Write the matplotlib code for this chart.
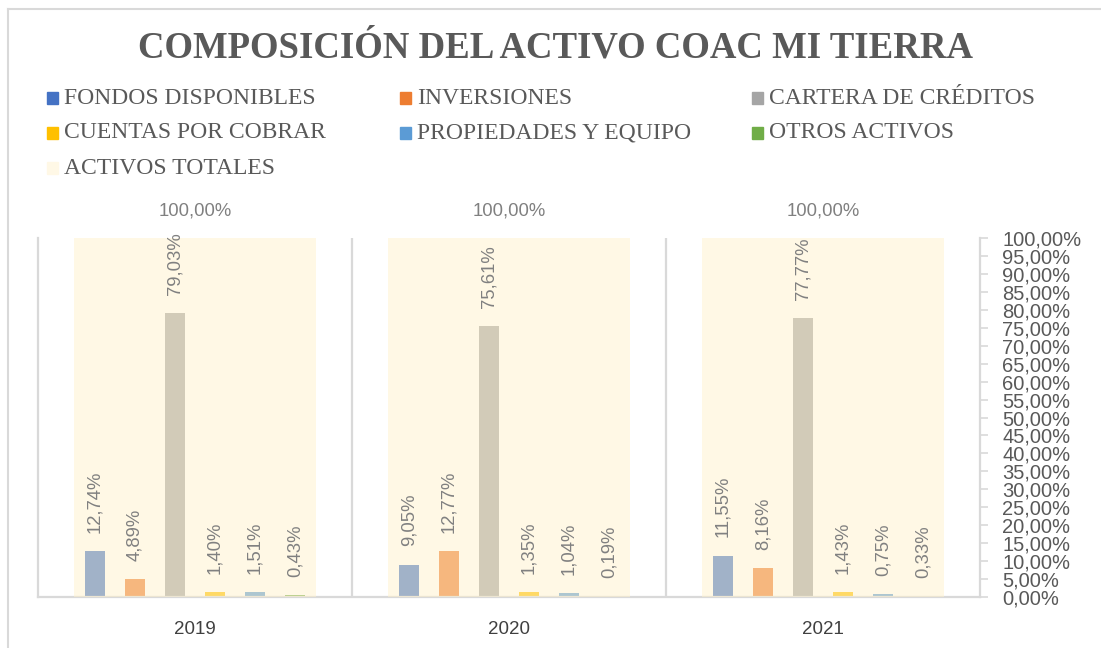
import matplotlib.pyplot as plt
from matplotlib.lines import Line2D
from matplotlib.patches import Rectangle
import numpy as np

years = ['2019', '2020', '2021']
series_names = ['FONDOS DISPONIBLES', 'INVERSIONES', 'CARTERA DE CRÉDITOS',
                'CUENTAS POR COBRAR', 'PROPIEDADES Y EQUIPO', 'OTROS ACTIVOS']
fondos = [12.74, 9.05, 11.55]
inversiones = [4.89, 12.77, 8.16]
cartera = [79.03, 75.61, 77.77]
cuentas = [1.40, 1.35, 1.43]
propiedades = [1.51, 1.04, 0.75]
otros = [0.43, 0.19, 0.33]
totales = [100.0, 100.0, 100.0]
total_name = 'ACTIVOS TOTALES'
yticks = np.arange(0, 101, 5)

colors = ['#4472C4', '#ED7D31', '#A5A5A5', '#FFC000', '#5B9BD5', '#70AD47']
total_color = '#FFF2CC'
grid_color = '#D9D9D9'
label_color = '#808080'
sans = 'Liberation Sans'
serif = 'Liberation Serif'


def pct(v):
    return f'{v:.2f}'.replace('.', ',') + '%'


fig = plt.figure(figsize=(11.01, 6.48), dpi=100)
ax = fig.add_axes([38 / 1101, 51 / 648, 942 / 1101, 359 / 648])

x = np.arange(len(years))
series = [fondos, inversiones, cartera, cuentas, propiedades, otros]
step, width = 0.1274, 0.0637
for i, (vals, c) in enumerate(zip(series, colors)):
    pos = x + (i - 2.5) * step
    ax.bar(pos, vals, width=width, color=c, zorder=2)
    for px, v in zip(pos, vals):
        ax.annotate(pct(v), (px, v), xytext=(0, 13), textcoords='offset points',
                    rotation=90, ha='center', va='bottom', fontsize=13.3,
                    family=sans, color=label_color, zorder=5)

# totals sit on top, half transparent, which washes out the colours below
ax.bar(x, totales, width=0.771, color=total_color, alpha=0.5, zorder=3)
for px, v in zip(x, totales):
    ax.annotate(pct(v), (px, v), xytext=(0, 13), textcoords='offset points',
                ha='center', va='bottom', fontsize=13.3, family=sans,
                color=label_color, annotation_clip=False)

ax.set_xlim(-0.5, len(years) - 0.5)
ax.set_ylim(0, 100)
for sep in x[:-1] + 0.5:
    ax.axvline(sep, color=grid_color, lw=1.6, zorder=1)

ax.set_xticks(x)
ax.set_xticklabels(years, fontsize=13.5, family=sans, color='#404040')
ax.tick_params(axis='x', length=0, pad=17)

ax.yaxis.tick_right()
ax.set_yticks(yticks)
ax.set_yticklabels([pct(t) for t in yticks], fontsize=14.5, family=sans,
                   color='#595959')
ax.tick_params(axis='y', direction='out', length=6, width=1.2,
               color=grid_color, pad=10)

ax.spines['top'].set_visible(False)
for side in ['left', 'right', 'bottom']:
    ax.spines[side].set_color(grid_color)
    ax.spines[side].set_linewidth(1.6)

fig.text(555 / 1101, 1 - 48 / 648, 'COMPOSICIÓN DEL ACTIVO COAC MI TIERRA',
         ha='center', va='center', fontsize=26.5, fontweight='bold',
         family=serif, color='#595959')

# legend, laid out row by row like the original
names = series_names + [total_name]
leg_colors = colors + ['#FFF8E6']
col_x = [47, 400, 752]
row_y = [98, 133, 168]
for k, (name, c) in enumerate(zip(names, leg_colors)):
    cx = col_x[k % 3]
    cy = row_y[k // 3]
    fig.patches.append(Rectangle((cx / 1101, 1 - (cy + 6) / 648), 11 / 1101, 12 / 648,
                                 transform=fig.transFigure, color=c))
    fig.text((cx + 17) / 1101, 1 - cy / 648, name, ha='left', va='center',
             fontsize=17, family=serif, color='#595959')

# outer frame (only top and left edges show)
fig.add_artist(Line2D([8 / 1101, 1], [1 - 9 / 648, 1 - 9 / 648],
                      transform=fig.transFigure, color=grid_color, lw=1.5))
fig.add_artist(Line2D([8 / 1101, 8 / 1101], [0, 1 - 9 / 648],
                      transform=fig.transFigure, color=grid_color, lw=1.5))

fig.savefig('out.png', dpi=100)
